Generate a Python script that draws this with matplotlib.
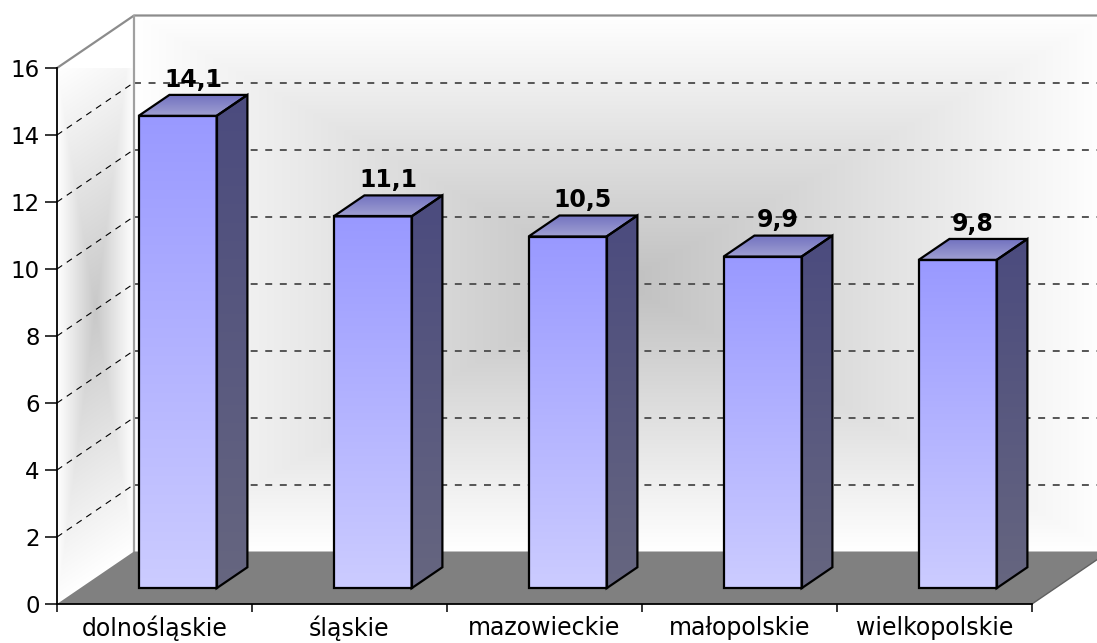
import numpy as np
import matplotlib
matplotlib.use('Agg')
import matplotlib.pyplot as plt
from matplotlib.patches import Polygon
from matplotlib.transforms import Affine2D
from matplotlib.colors import to_rgb

regions = ['dolnośląskie', 'śląskie', 'mazowieckie', 'małopolskie', 'wielkopolskie']
values = [14.1, 11.1, 10.5, 9.9, 9.8]
value_labels = ['14,1', '11,1', '10,5', '9,9', '9,8']
y_ticks = [0, 2, 4, 6, 8, 10, 12, 14, 16]

plt.rcParams['font.family'] = 'DejaVu Sans'
plt.rcParams['lines.scale_dashes'] = False

W, H = 1097, 643
fig = plt.figure(figsize=(W / 100, H / 100), dpi=100)
ax = fig.add_axes([57 / W, 39 / H, 975 / W, 536 / H])  # front plane of the 3d box
ax.patch.set_visible(False)
n = len(regions)
ymax = y_ticks[-1]

# oblique depth: one unit of depth moves right/up by these data units
KX = 77 / 195
KY = 52.5 / 33.5
BAR_W = 0.4
Z0, Z1 = 0.3, 0.7


def P(x, y, z):
    return (x + KX * z, y + KY * z)


def vgrad(c_top, c_bot, steps=256):
    t = np.linspace(0, 1, steps)[:, None, None]
    rgb = np.array(to_rgb(c_top)) * (1 - t) + np.array(to_rgb(c_bot)) * t
    return np.concatenate([rgb, np.ones_like(rgb[..., :1])], axis=-1)


def center_grad(c_mid, nx=300, ny=300):
    u = np.linspace(-1, 1, nx)[None, :]
    v = np.linspace(-1, 1, ny)[:, None]
    t = np.clip(np.maximum(np.abs(u), np.abs(v)), 0, 1)[..., None]
    rgb = np.array(to_rgb(c_mid)) * (1 - t) + np.ones(3) * t
    return np.concatenate([rgb, np.ones_like(rgb[..., :1])], axis=-1)


# back wall
ax.imshow(center_grad('#c0c0c0'), extent=(KX, n + KX, KY, ymax + KY),
          aspect='auto', interpolation='bilinear', clip_on=False, zorder=0)
# left side wall (skewed image, clipped to the wall)
side_poly = Polygon([P(0, 0, 0), P(0, 0, 1), P(0, ymax, 1), P(0, ymax, 0)],
                    closed=True, transform=ax.transData)
side_tr = Affine2D.from_values(KX, KY, 0, ymax, 0, 0) + ax.transData
ax.imshow(center_grad('#c8c8c8', 120, 300), extent=(0, 1, 0, 1), transform=side_tr,
          aspect='auto', interpolation='bilinear', clip_path=side_poly, zorder=0)

# gridlines
for v in y_ticks[1:-1]:
    a, b = P(0, v, 1), P(n + 1, v, 1)
    ax.plot([a[0], b[0]], [a[1], b[1]], color='#555555', lw=1.4,
            dashes=(5, 5.5), clip_on=False, zorder=1)
    a, b = P(0, v, 0), P(0, v, 1)
    ax.plot([a[0], b[0]], [a[1], b[1]], color='black', lw=0.8,
            dashes=(4.5, 4), clip_on=False, zorder=1)

# wall edges
edge_pts = [P(0, ymax, 0), P(0, ymax, 1), P(n + 1, ymax, 1)]
ax.plot([p[0] for p in edge_pts], [p[1] for p in edge_pts], color='#8c8c8c',
        lw=1.6, clip_on=False, zorder=1.5)
a, b = P(0, 0, 1), P(0, ymax, 1)
ax.plot([a[0], b[0]], [a[1], b[1]], color='#a0a0a0', lw=1.6, clip_on=False, zorder=1.5)

# floor
floor = Polygon([P(0, 0, 0), P(n, 0, 0), P(n, 0, 1), P(n + 1, 0, 1), P(0, 0, 1)],
                closed=True, facecolor='#808080', edgecolor='none',
                clip_on=False, zorder=2)
ax.add_patch(floor)
a, b = P(n, 0, 0), P(n, 0, 1)
ax.plot([a[0], b[0]], [a[1], b[1]], color='#606060', lw=1, clip_on=False, zorder=2)


def face(verts, c_top, c_bot, z):
    poly = Polygon(verts, closed=True, transform=ax.transData)
    xs = [p[0] for p in verts]
    ys = [p[1] for p in verts]
    ax.imshow(vgrad(c_top, c_bot), extent=(min(xs), max(xs), min(ys), max(ys)),
              aspect='auto', interpolation='bilinear', clip_path=poly, zorder=z)
    ax.add_patch(Polygon(verts, closed=True, fill=False, edgecolor='black', lw=1.6,
                         joinstyle='miter', clip_on=False, zorder=z + 0.1))


for i, (val, lab) in enumerate(zip(values, value_labels)):
    x0 = i + 0.5 - BAR_W / 2
    x1 = x0 + BAR_W
    front = [P(x0, 0, Z0), P(x1, 0, Z0), P(x1, val, Z0), P(x0, val, Z0)]
    side = [P(x1, 0, Z0), P(x1, 0, Z1), P(x1, val, Z1), P(x1, val, Z0)]
    top = [P(x0, val, Z0), P(x1, val, Z0), P(x1, val, Z1), P(x0, val, Z1)]
    face(front, '#9999ff', '#ccccff', 3)
    face(side, '#4b4b7e', '#666680', 3)
    face(top, '#7272c0', '#a0a0d2', 3)
    lx = P(i + 0.5, 0, 0.5)[0]
    ax.text(lx, val + 1.55, lab, ha='center', va='center', fontsize=17,
            fontweight='bold', color='black', zorder=5)

# axes, ticks
for s in ['top', 'right']:
    ax.spines[s].set_visible(False)
for s in ['left', 'bottom']:
    ax.spines[s].set_linewidth(1.3)
    ax.spines[s].set_color('black')
    ax.spines[s].set_zorder(6)

ax.set_yticks(y_ticks)
ax.set_yticklabels([str(t) for t in y_ticks])
ax.tick_params(axis='y', length=8.5, width=1.1, pad=4, labelsize=16.5, colors='black')
ax.set_xticks(range(n + 1))
ax.set_xticklabels([])
ax.set_xticks([i + 0.5 for i in range(n)], minor=True)
ax.set_xticklabels(regions, minor=True)
ax.tick_params(axis='x', which='major', length=6, width=1.1)
ax.tick_params(axis='x', which='minor', length=0, pad=8.5, labelsize=17)

ax.set_xlim(0, n)
ax.set_ylim(0, ymax)

fig.savefig('out.png', dpi=100, facecolor='white')
